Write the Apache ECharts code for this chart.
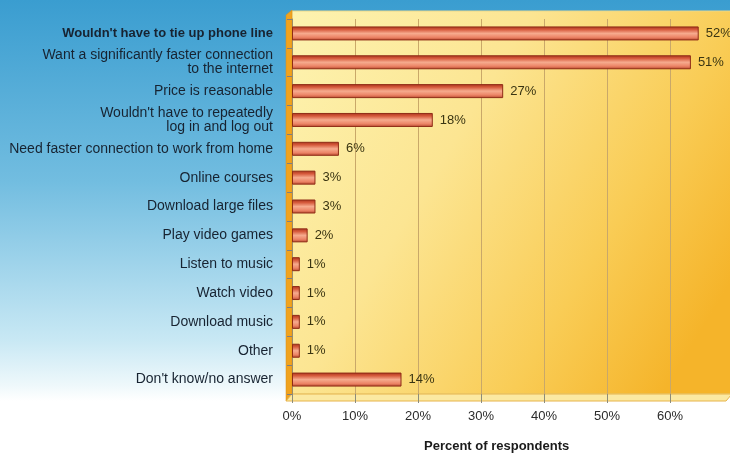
<!DOCTYPE html>
<html>
<head>
<meta charset="utf-8">
<script src="https://cdn.jsdelivr.net/npm/echarts@6/dist/echarts.min.js"></script>
<style>
html,body{margin:0;padding:0;}
#c{width:730px;height:453px;}
</style>
</head>
<body>
<div id="c"></div>
<script>
var categories = [
  "Wouldn't have to tie up phone line",
  "Want a significantly faster connection\nto the internet",
  "Price is reasonable",
  "Wouldn't have to repeatedly\nlog in and log out",
  "Need faster connection to work from home",
  "Online courses",
  "Download large files",
  "Play video games",
  "Listen to music",
  "Watch video",
  "Download music",
  "Other",
  "Don't know/no answer"
];
var values = [52, 51, 27, 18, 6, 3, 3, 2, 1, 1, 1, 1, 14];
var tickValues = [0, 10, 20, 30, 40, 50, 60];
var axisTitle = "Percent of respondents";

var chart = echarts.init(document.getElementById('c'), null, {renderer: 'canvas'});
var G = echarts.graphic;
var font = "'Liberation Sans', Arial, sans-serif";

var option = {
  animation: false,
  backgroundColor: new G.LinearGradient(0, 0, 0, 1, [
    {offset: 0, color: '#3a9dd0'},
    {offset: 0.4, color: '#72bde0'},
    {offset: 0.75, color: '#c8e8f4'},
    {offset: 0.85, color: '#eef8fb'},
    {offset: 0.885, color: '#ffffff'},
    {offset: 1, color: '#ffffff'}
  ]),
  graphic: [
    {type: 'rect', z: -10, shape: {x: 292, y: 11, width: 440, height: 383},
     style: {fill: new G.LinearGradient(0, 0, 1, 0.7, [
       {offset: 0, color: '#fdf3b0'},
       {offset: 0.4, color: '#fce592'},
       {offset: 0.75, color: '#f9cc55'},
       {offset: 1, color: '#f5b42a'}
     ]), stroke: '#e9d78a', lineWidth: 1}},
    {type: 'polygon', z: -9, shape: {points: [[286, 15], [292, 10], [292, 394], [286, 401]]},
     style: {fill: '#f0a31f', stroke: '#d98e17', lineWidth: 0.5}},
    {type: 'polygon', z: -9, shape: {points: [[292, 394], [732, 394], [726, 401], [286, 401]]},
     style: {fill: '#fbe9a2', stroke: '#e7b44a', lineWidth: 1}},
    {type: 'text', left: 424, top: 440,
     style: {text: axisTitle, font: "bold 13px " + font, fill: '#1a1a1a'}}
  ],
  grid: {left: 292, right: 0, top: 19, bottom: 59, containLabel: false},
  xAxis: [
    {type: 'value', min: 0, max: 56, show: false},
    {type: 'value', min: 0, max: 69.5, interval: 10, position: 'bottom',
     axisLine: {show: false},
     axisTick: {show: true, length: 9, lineStyle: {color: '#8c8c7a'}},
     splitLine: {show: true, lineStyle: {color: '#c9a869', width: 1}},
     axisLabel: {margin: 16, showMaxLabel: false, color: '#2b2b2b', fontSize: 13, fontFamily: font,
       formatter: function (v) { return tickValues.indexOf(v) >= 0 ? v + '%' : ''; }}}
  ],
  yAxis: {
    type: 'category', data: categories, inverse: true,
    axisLine: {show: true, lineStyle: {color: '#9a8d6a'}},
    axisTick: {show: true, length: 5, lineStyle: {color: '#7f7f7f'}},
    offset: 5,
    axisLabel: {margin: 14, color: '#172331', fontSize: 14, fontFamily: font, lineHeight: 14,
      formatter: function (v, i) { return i === 0 ? '{b|' + v + '}' : v; },
      rich: {b: {fontWeight: 'bold', fontSize: 13, fontFamily: font, color: '#172331'}}}
  },
  series: [{
    type: 'bar', xAxisIndex: 0, data: values, barWidth: 14,
    itemStyle: {
      color: new G.LinearGradient(0, 0, 0, 1, [
        {offset: 0, color: '#a8321c'},
        {offset: 0.22, color: '#d65a3c'},
        {offset: 0.5, color: '#f6ab8e'},
        {offset: 0.78, color: '#ec8466'},
        {offset: 1, color: '#b4452c'}
      ]),
      borderColor: '#8f2c16', borderWidth: 1
    },
    label: {show: true, position: 'right', distance: 7, formatter: '{c}%',
      color: '#3a3512', fontSize: 13, fontFamily: font}
  }]
};
chart.setOption(option);
</script>
</body>
</html>
